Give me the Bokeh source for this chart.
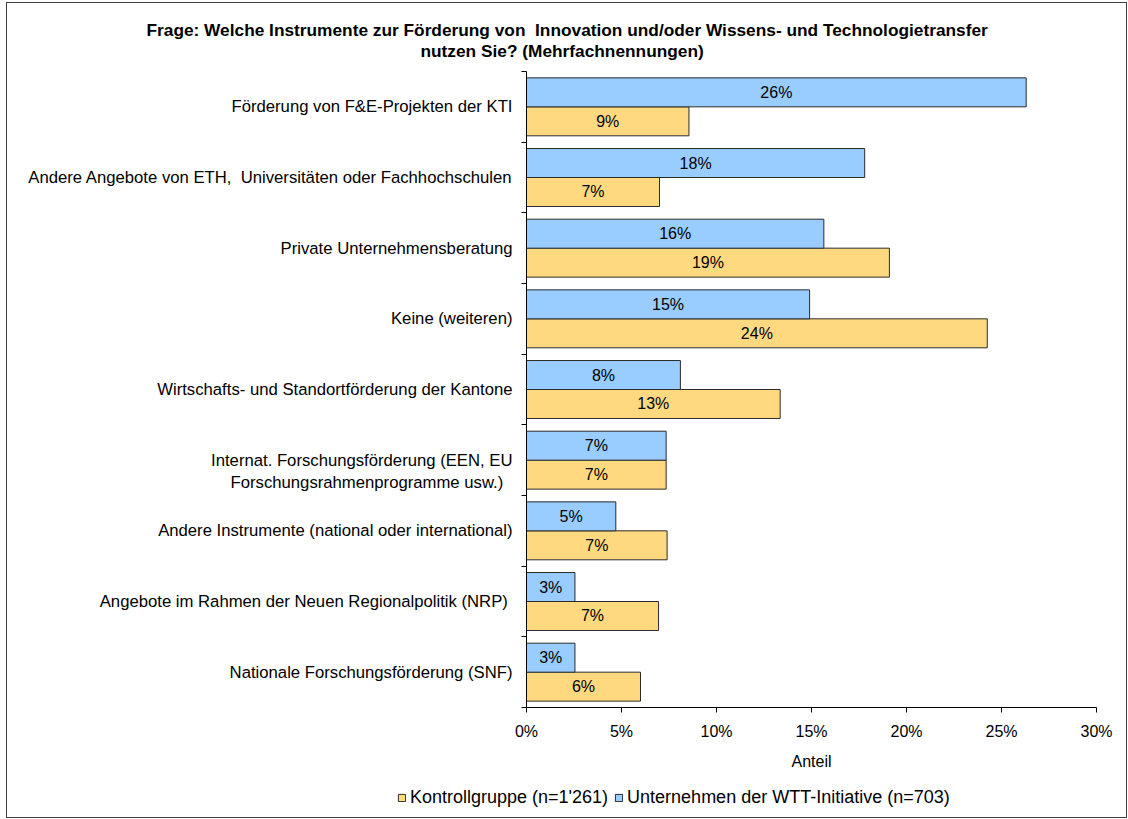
from bokeh.plotting import figure
from bokeh.layouts import column
from bokeh.models import (Range1d, FixedTicker, PrintfTickFormatter, Title,
                          Legend, LegendItem, ColumnDataSource)
from bokeh.core.properties import value
from bokeh.embed import file_html
from bokeh.resources import INLINE

NB = "\u00a0"

# ---- data ----
categories = [
    "Förderung von F&E-Projekten der KTI",
    "Andere Angebote von ETH," + NB + " Universitäten oder Fachhochschulen",
    "Private Unternehmensberatung",
    "Keine (weiteren)",
    "Wirtschafts- und Standortförderung der Kantone",
    NB + "\nInternat. Forschungsförderung (EEN, EU\nForschungsrahmenprogramme usw.)" + NB * 2,
    "Andere Instrumente (national oder international)",
    "Angebote im Rahmen der Neuen Regionalpolitik (NRP)" + NB,
    "Nationale Forschungsförderung (SNF)",
]
wtt_values = [26.3, 17.8, 15.65, 14.9, 8.1, 7.35, 4.7, 2.55, 2.55]
kontroll_values = [8.55, 7.0, 19.1, 24.25, 13.35, 7.35, 7.4, 6.95, 6.0]
x_ticks = [0, 5, 10, 15, 20, 25, 30]
series_names = ["Kontrollgruppe (n=1'261)", "Unternehmen der WTT-Initiative (n=703)"]
title_lines = ["Frage: Welche Instrumente zur Förderung von" + NB + " Innovation und/oder Wissens- und Technologietransfer",
               "nutzen Sie? (Mehrfachnennungen)"]
x_label = "Anteil"

FONT = "Liberation Sans"
BLUE = "#99CCFF"
YELLOW = "#FFD980"
EDGE = "#2b2b2b"

n = len(categories)
centers = [n - i - 0.5 for i in range(n)]
bh = 0.41

src_w = ColumnDataSource(dict(
    y=[c + bh / 2 for c in centers], right=wtt_values,
    xm=[v / 2 for v in wtt_values], lab=[f"{round(v)}%" for v in wtt_values]))
src_k = ColumnDataSource(dict(
    y=[c - bh / 2 for c in centers], right=kontroll_values,
    xm=[v / 2 for v in kontroll_values], lab=[f"{round(v)}%" for v in kontroll_values]))

W = 1119
H_MAIN = 775
H_LEG = 39

p = figure(width=W, height=H_MAIN, output_backend="svg", toolbar_location=None,
           x_range=Range1d(0, 30), y_range=Range1d(0, n),
           min_border_left=519, min_border_right=30, min_border_top=68,
           min_border_bottom=H_MAIN - 704)
p.frame_align = False
p.outline_line_color = None
p.xgrid.visible = False
p.ygrid.visible = False
p.background_fill_color = "white"
p.border_fill_color = "white"

r_k = p.hbar(y="y", left=0, right="right", height=bh, source=src_k,
             fill_color=YELLOW, line_color=EDGE, line_width=1)
r_w = p.hbar(y="y", left=0, right="right", height=bh, source=src_w,
             fill_color=BLUE, line_color=EDGE, line_width=1)

for src in (src_w, src_k):
    p.text(x="xm", y="y", text="lab", source=src, text_align="center",
           text_baseline="middle", text_font=value(FONT),
           text_font_size=value("16px"), text_color="black")

# x axis
xa = p.xaxis[0]
xa.ticker = FixedTicker(ticks=x_ticks)
xa.formatter = PrintfTickFormatter(format="%d%%")
xa.axis_label = x_label
xa.axis_label_text_font = FONT
xa.axis_label_text_font_style = "normal"
xa.axis_label_text_font_size = "16px"
xa.axis_label_text_color = "black"
xa.axis_label_standoff = 10
xa.major_label_text_font = FONT
xa.major_label_text_font_size = "16px"
xa.major_label_text_color = "black"
xa.major_label_standoff = 10
xa.major_tick_out = 5
xa.major_tick_in = 0
xa.minor_tick_out = 0
xa.minor_tick_in = 0
xa.axis_line_color = "black"
xa.major_tick_line_color = "black"

# y axis
ya = p.yaxis[0]
ya.ticker = FixedTicker(ticks=centers, minor_ticks=list(range(n + 1)))
ya.major_label_overrides = {c: lab for c, lab in zip(centers, categories)}
ya.major_tick_out = 0
ya.major_tick_in = 0
ya.minor_tick_out = 5
ya.minor_tick_in = 0
ya.minor_tick_line_color = "black"
ya.axis_line_color = "black"
ya.major_label_standoff = 9
ya.major_label_text_font = FONT
ya.major_label_text_font_size = "16.7px"
ya.major_label_text_line_height = 1.15
ya.major_label_text_color = "black"

# two-line title, placed over the whole figure
p.add_layout(Title(text=title_lines[1], align="left", offset=-106, vertical_align="middle",
                   standoff=20, text_font=FONT, text_font_style="bold",
                   text_font_size="17.3px", text_color="black"), "above")
p.add_layout(Title(text=title_lines[0], align="left", offset=-380, vertical_align="middle",
                   standoff=-22, text_font=FONT, text_font_style="bold",
                   text_font_size="17.3px", text_color="black"), "above")

# legend strip below the chart (its swatches come from renderers drawn off-view)
lf = figure(width=W, height=H_LEG, output_backend="svg", toolbar_location=None,
            x_range=Range1d(0, 1), y_range=Range1d(0, 1),
            x_axis_type=None, y_axis_type=None,
            min_border_left=0, min_border_right=0, min_border_top=0, min_border_bottom=0)
lf.frame_align = False
lf.outline_line_color = None
lf.background_fill_color = "white"
lf.border_fill_color = "white"
lk = lf.hbar(y=[-10], left=0, right=[1], height=bh, fill_color=YELLOW, line_color=EDGE, line_width=1)
lw = lf.hbar(y=[-10], left=0, right=[1], height=bh, fill_color=BLUE, line_color=EDGE, line_width=1)

legend = Legend(items=[LegendItem(label=series_names[0], renderers=[lk]),
                       LegendItem(label=series_names[1], renderers=[lw])],
                orientation="horizontal", location=(390, 9),
                padding=0, margin=0, spacing=6, label_standoff=4,
                glyph_width=9, glyph_height=9,
                label_text_font=FONT, label_text_font_size="18px",
                label_text_color="black",
                border_line_color=None, background_fill_alpha=0)
lf.add_layout(legend, "center")

layout = column(p, lf, spacing=0,
                styles={"border": "1px solid #404040", "margin-left": "6px", "margin-top": "2px"})

open("out.html", "w").write(file_html(layout, INLINE))
